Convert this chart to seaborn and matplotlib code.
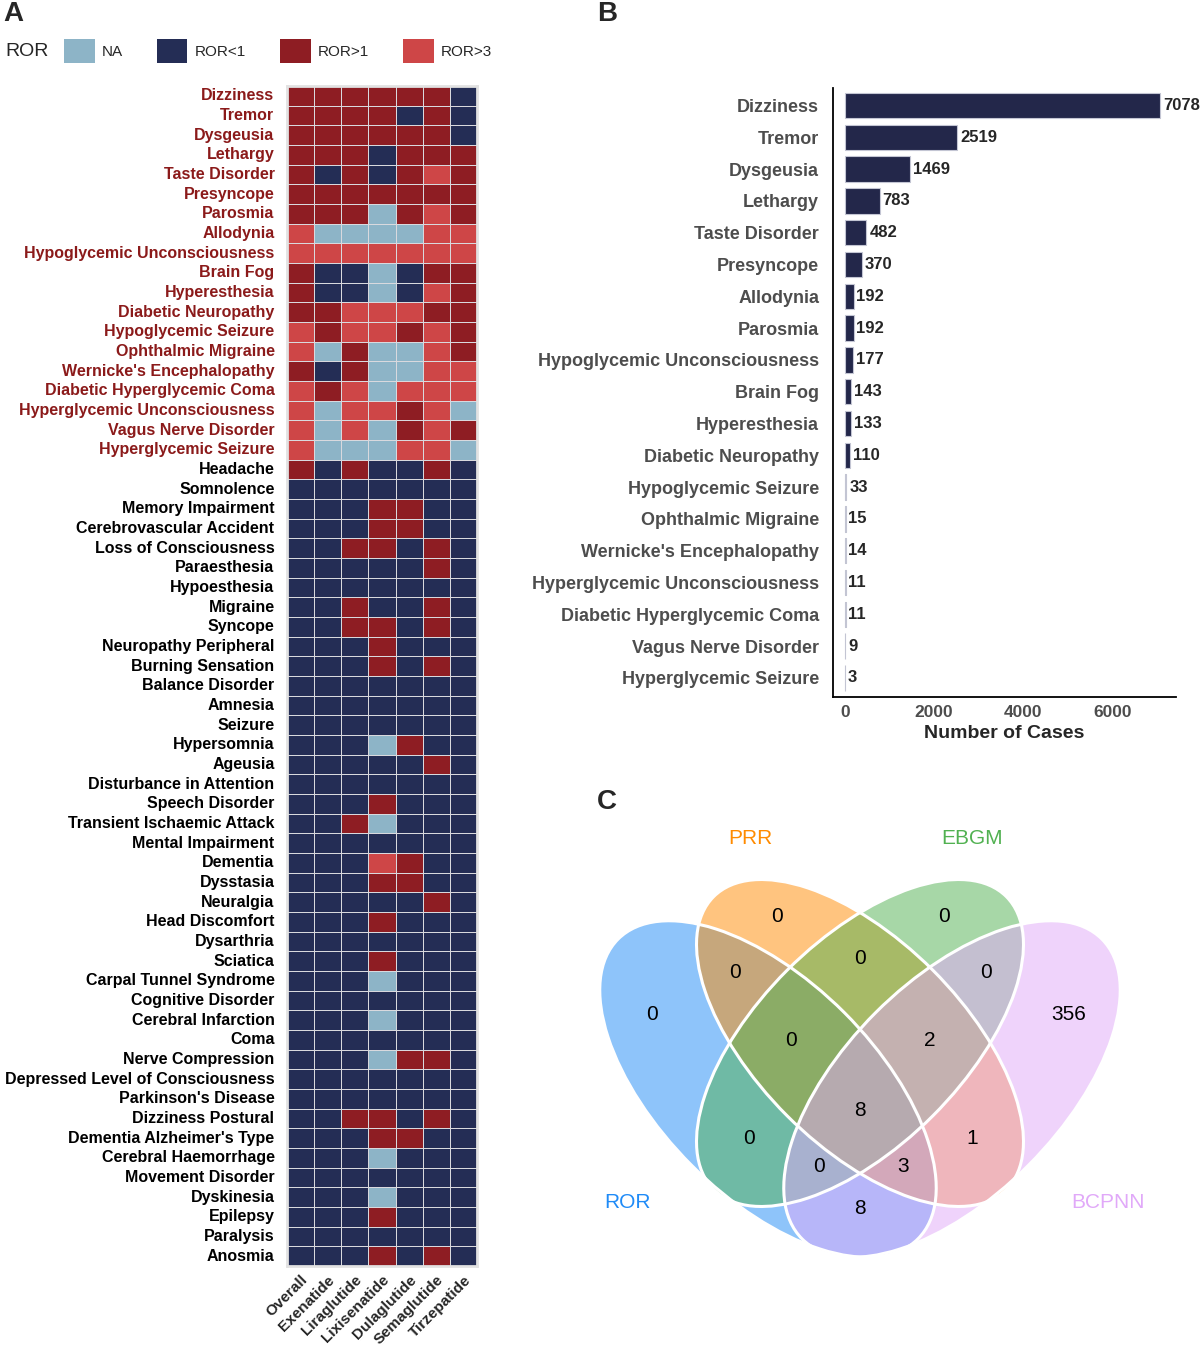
import numpy as np
import pandas as pd
import seaborn as sns
import matplotlib.pyplot as plt
from matplotlib.colors import ListedColormap
from matplotlib.patches import Patch, Ellipse

sns.set_style("white")
plt.rcParams["font.family"] = ["Liberation Sans", "DejaVu Sans"]

# ---------------- data ----------------
drugs = ["Overall", "Exenatide", "Liraglutide", "Lixisenatide",
         "Dulaglutide", "Semaglutide", "Tirzepatide"]

ae_terms = [
    "Dizziness", "Tremor", "Dysgeusia", "Lethargy", "Taste Disorder", "Presyncope",
    "Parosmia", "Allodynia", "Hypoglycemic Unconsciousness", "Brain Fog",
    "Hyperesthesia", "Diabetic Neuropathy", "Hypoglycemic Seizure",
    "Ophthalmic Migraine", "Wernicke's Encephalopathy", "Diabetic Hyperglycemic Coma",
    "Hyperglycemic Unconsciousness", "Vagus Nerve Disorder", "Hyperglycemic Seizure",
    "Headache", "Somnolence", "Memory Impairment", "Cerebrovascular Accident",
    "Loss of Consciousness", "Paraesthesia", "Hypoesthesia", "Migraine", "Syncope",
    "Neuropathy Peripheral", "Burning Sensation", "Balance Disorder", "Amnesia",
    "Seizure", "Hypersomnia", "Ageusia", "Disturbance in Attention", "Speech Disorder",
    "Transient Ischaemic Attack", "Mental Impairment", "Dementia", "Dysstasia",
    "Neuralgia", "Head Discomfort", "Dysarthria", "Sciatica", "Carpal Tunnel Syndrome",
    "Cognitive Disorder", "Cerebral Infarction", "Coma", "Nerve Compression",
    "Depressed Level of Consciousness", "Parkinson's Disease", "Dizziness Postural",
    "Dementia Alzheimer's Type", "Cerebral Haemorrhage", "Movement Disorder",
    "Dyskinesia", "Epilepsy", "Paralysis", "Anosmia",
]

# 0 = NA, 1 = ROR<1, 2 = ROR>1, 3 = ROR>3 (one string per term, one digit per drug)
ror_rows = [
    "2222221", "2222121", "2222221", "2221222", "2121232", "2222222", "2220232",
    "3000033", "3333333", "2110122", "2110132", "2233322", "3233232", "3020032",
    "2120033", "3230333", "3033230", "3030232", "3000330",
    "2121121", "1111111", "1112211", "1112211", "1122121", "1111121", "1111111",
    "1121121", "1122121", "1112111", "1112121", "1111111", "1111111", "1111111",
    "1110211", "1111121", "1111111", "1112111", "1120111", "1111111", "1113211",
    "1112211", "1111121", "1112111", "1111111", "1112111", "1110111", "1111111",
    "1110111", "1111111", "1110221", "1111111", "1111111", "1122121", "1112211",
    "1110111", "1111111", "1110111", "1112111", "1111111", "1112121",
]
n_signal_terms = 19

ror_levels = ["NA", "ROR<1", "ROR>1", "ROR>3"]
ror_colors = ["#8db4c7", "#242d55", "#8e1d23", "#ce4647"]

bar_terms = [
    "Dizziness", "Tremor", "Dysgeusia", "Lethargy", "Taste Disorder", "Presyncope",
    "Allodynia", "Parosmia", "Hypoglycemic Unconsciousness", "Brain Fog",
    "Hyperesthesia", "Diabetic Neuropathy", "Hypoglycemic Seizure",
    "Ophthalmic Migraine", "Wernicke's Encephalopathy",
    "Hyperglycemic Unconsciousness", "Diabetic Hyperglycemic Coma",
    "Vagus Nerve Disorder", "Hyperglycemic Seizure",
]
bar_cases = [7078, 2519, 1469, 783, 482, 370, 192, 192, 177, 143, 133, 110,
             33, 15, 14, 11, 11, 9, 3]

venn_sets = ["ROR", "PRR", "EBGM", "BCPNN"]
venn_colors = ["#1f8bf7", "#ff8b00", "#51b151", "#e1a9f9"]
venn_regions = ["ROR", "PRR", "EBGM", "BCPNN", "ROR&PRR", "PRR&EBGM", "EBGM&BCPNN",
                "ROR&PRR&EBGM", "PRR&EBGM&BCPNN", "ROR&PRR&EBGM&BCPNN", "ROR&EBGM",
                "PRR&BCPNN", "ROR&EBGM&BCPNN", "ROR&PRR&BCPNN", "ROR&BCPNN"]
venn_counts = [0, 0, 0, 356, 0, 0, 0, 0, 2, 8, 0, 1, 0, 3, 8]

# ---------------- figure ----------------
W, H = 1200, 1352
fig = plt.figure(figsize=(W / 100, H / 100), dpi=100)


def px_axes(x0, y0, x1, y1):
    return fig.add_axes([x0 / W, 1 - y1 / H, (x1 - x0) / W, (y1 - y0) / H])


# ---- A: heatmap ----
ror_df = pd.DataFrame([[int(c) for c in r] for r in ror_rows], index=ae_terms, columns=drugs)

ax_a = px_axes(287, 86, 477, 1266)
sns.heatmap(ror_df, cmap=ListedColormap(ror_colors), vmin=-0.5, vmax=3.5, cbar=False,
            linewidths=0.5, linecolor="#d9d9de", ax=ax_a)
for sp in ax_a.spines.values():
    sp.set_visible(True)
    sp.set_color("#e2e2e2")
    sp.set_linewidth(2)
ax_a.set_xlabel("")
ax_a.set_ylabel("")
ax_a.tick_params(axis="y", length=0, pad=9)
ax_a.tick_params(axis="x", length=0, pad=5)
ax_a.set_yticks(np.arange(len(ae_terms)) + 0.5)
ax_a.set_yticklabels(ae_terms, fontsize=11.5, fontweight="bold")
for i, lab in enumerate(ax_a.get_yticklabels()):
    lab.set_color("#8b1a1a" if i < n_signal_terms else "black")
ax_a.set_xticks(np.arange(len(drugs)) + 0.5)
ax_a.set_xticklabels(drugs, rotation=45, ha="right", rotation_mode="anchor",
                     fontsize=11, fontweight="bold")

fig.text(5 / W, 1 - 51 / H, "ROR", fontsize=14, va="center", ha="left")
handles = [Patch(facecolor=c, edgecolor="none") for c in ror_colors]
fig.legend(handles, ror_levels, loc="center left", bbox_to_anchor=(64 / W, 1 - 51 / H),
           ncol=4, frameon=False, fontsize=11, handlelength=2.0, handleheight=2.0,
           handletextpad=0.5, columnspacing=2.2, borderpad=0, borderaxespad=0)

# ---- B: bar chart ----
bar_df = pd.DataFrame({"term": bar_terms, "cases": bar_cases})
ax_b = px_axes(833, 88, 1176, 697)
sns.barplot(data=bar_df, x="cases", y="term", orient="h", color="#23274a", saturation=1,
            edgecolor="#c3c5d3", linewidth=0.8, width=0.8, ax=ax_b)
ax_b.bar_label(ax_b.containers[0], labels=[str(v) for v in bar_cases], padding=2,
               fontsize=12, fontweight="bold")
ax_b.set_xlim(-270, 7432)
ax_b.set_ylim(18.6, -0.55)
ax_b.set_xticks([0, 2000, 4000, 6000])
ax_b.set_ylabel("")
ax_b.set_xlabel("Number of Cases", fontsize=14, fontweight="bold", labelpad=3)
for s in ["top", "right"]:
    ax_b.spines[s].set_visible(False)
for s in ["left", "bottom"]:
    ax_b.spines[s].set_color("black")
    ax_b.spines[s].set_linewidth(1.3)
ax_b.tick_params(axis="y", length=0, pad=10)
ax_b.tick_params(axis="x", length=4, width=1, color="black", pad=2)
for lab in ax_b.get_yticklabels():
    lab.set_fontsize(13)
    lab.set_fontweight("bold")
    lab.set_color("#4d4d4d")
for lab in ax_b.get_xticklabels():
    lab.set_fontsize(12.5)
    lab.set_fontweight("bold")
    lab.set_color("#4d4d4d")

# ---- C: Venn diagram (pixel coordinates) ----
ax_c = px_axes(590, 790, 1200, 1352)
ax_c.set_xlim(590, 1200)
ax_c.set_ylim(1352, 790)
ax_c.axis("off")

ellipse_geom = [((768, 1089), 212, 108, 45), ((860, 1043), 207, 103, 45),
                ((860, 1043), 207, 103, -45), ((952, 1089), 212, 108, -45)]
for (cxy, a, b, ang), col in zip(ellipse_geom, venn_colors):
    ax_c.add_patch(Ellipse(cxy, 2 * a, 2 * b, angle=ang, facecolor=col, alpha=0.5,
                           edgecolor="none"))
for cxy, a, b, ang in ellipse_geom:
    ax_c.add_patch(Ellipse(cxy, 2 * a, 2 * b, angle=ang, facecolor="none",
                           edgecolor="white", linewidth=2.2))

region_xy = {
    "ROR": (652, 1014), "PRR": (777, 916), "EBGM": (944, 916), "BCPNN": (1069, 1014),
    "ROR&PRR": (735, 972), "PRR&EBGM": (860, 958), "EBGM&BCPNN": (986, 972),
    "ROR&PRR&EBGM": (791, 1041), "PRR&EBGM&BCPNN": (930, 1041),
    "ROR&PRR&EBGM&BCPNN": (860, 1111), "ROR&EBGM": (749, 1139), "PRR&BCPNN": (972, 1139),
    "ROR&EBGM&BCPNN": (819, 1167), "ROR&PRR&BCPNN": (903, 1167), "ROR&BCPNN": (860, 1209),
}
for reg, cnt in zip(venn_regions, venn_counts):
    x, y = region_xy[reg]
    ax_c.text(x, y, str(cnt), ha="center", va="center", fontsize=15, color="black")

set_label_xy = [(628, 1202), (750, 838), (972, 838), (1108, 1202)]
for name, col, (x, y) in zip(venn_sets, venn_colors, set_label_xy):
    ax_c.text(x, y, name, ha="center", va="center", fontsize=15, color=col)

# panel letters
for letter, x, y in [("A", 3, 14), ("B", 597, 14), ("C", 597, 802)]:
    fig.text(x / W, 1 - y / H, letter, fontsize=20, fontweight="bold", va="center", ha="left")

fig.savefig("out.png", dpi=100)
